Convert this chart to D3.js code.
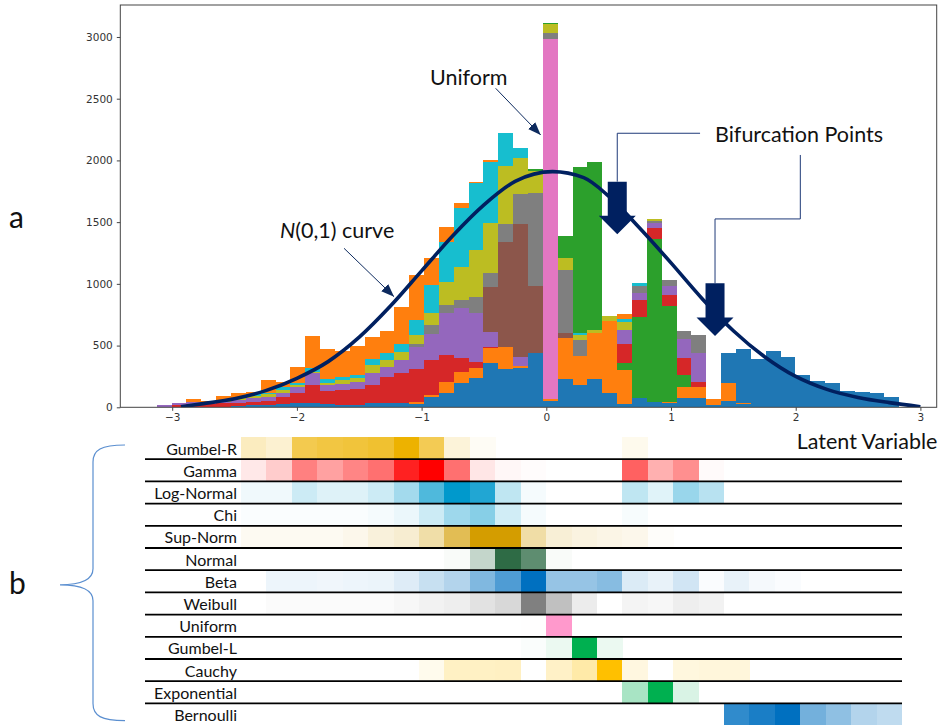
<!DOCTYPE html>
<html><head><meta charset="utf-8">
<script src="https://cdn.jsdelivr.net/npm/d3@7"></script>
<style>
body{margin:0;background:#fff}
svg{display:block}
</style>
</head><body>
<svg id="chart" width="942" height="725"></svg>
<script>
// ---- histogram of the latent variable, stacked by source distribution ----
const binCount = 50, binStart = -3.124, binWidth = 0.1191;

const histBeta      = [0,0,6,5,6,10,18,19,27,37, 32,26,22,22,38,33,37,30,84,113, 194,235,356,311,316,440,50,227,181,227, 113,30,73,45,37,73,73,15,53,25, 0,0,0,0,0,0,0,0,0,0];
const histCauchy    = [0,0,0,0,0,0,0,0,0,0, 0,0,0,0,0,0,0,10,13,94, 94,86,122,175,20,0,15,337,235,373, 586,270,0,0,8,94,94,50,146,10, 0,0,0,0,0,0,0,0,0,0];
const histExpon     = [0,0,0,0,0,0,0,0,0,0, 0,0,0,0,0,0,0,0,0,0, 0,0,0,0,0,0,0,0,0,0, 0,59,661,1315,775,95,0,0,0,0, 0,0,0,0,0,0,0,0,0,0];
const histGamma     = [0,20,22,19,27,27,27,35,54,81, 148,108,119,130,143,216,238,270,284,216, 108,49,8,0,0,0,0,0,0,0, 0,151,135,89,89,135,40,0,0,0, 0,0,0,0,0,0,0,0,0,0];
const histChi       = [19,17,13,8,10,22,27,27,38,49, 95,43,49,54,100,81,108,181,216,338, 405,392,127,0,68,0,0,0,0,0, 0,113,59,41,76,154,230,0,0,0, 0,0,0,0,0,0,0,0,0,0];
const histSupNorm   = [0,0,0,0,0,0,0,0,0,0, 0,0,0,0,0,0,0,0,0,0, 0,0,365,851,1080,540,0,35,0,0, 0,0,0,0,0,0,0,0,0,0, 0,0,0,0,0,0,0,0,0,0];
const histUniform   = [0,0,0,0,0,0,0,0,0,0, 0,0,0,0,0,0,0,0,0,0, 0,0,0,0,0,0,2917,0,0,0, 0,0,0,0,0,0,0,0,0,0, 0,0,0,0,0,0,0,0,0,0];
const histWeibull   = [0,0,0,0,0,0,0,0,0,0, 0,0,0,0,0,0,0,22,67,67, 67,135,108,149,243,756,48,513,130,0, 0,0,57,22,46,70,148,0,0,0, 0,0,0,0,0,0,0,0,0,0];
const histNormal    = [0,0,0,8,13,13,19,24,22,12, 13,22,32,32,62,54,67,75,103,189, 270,378,405,472,292,175,73,95,40,27, 40,68,0,11,0,0,0,0,0,0, 0,0,0,0,0,0,0,0,0,0];
const histLogNormal = [0,0,0,0,0,0,13,13,22,15, 27,27,22,22,46,59,60,119,227,324, 478,540,500,265,81,0,0,0,13,0, 0,27,19,0,0,0,0,0,0,0, 0,0,0,0,0,0,0,0,0,0];
const histBernoulli = [0,0,0,0,0,0,0,0,0,0, 0,0,0,0,0,0,0,0,0,0, 0,0,0,0,0,0,0,0,0,0, 0,0,0,0,0,0,0,0,243,435, 391,458,410,262,216,199,132,121,118,81];
const histGumbelR   = [0,0,24,13,32,46,22,103,40,135, 264,243,216,240,183,178,300,365,216,122, 35,13,13,0,0,0,0,0,0,0, 0,40,0,0,0,0,0,0,0,0, 0,0,0,0,0,0,0,0,0,0];
const histGumbelL   = [0,0,0,0,0,0,0,0,0,0, 0,0,0,0,0,0,0,0,0,0, 0,0,0,0,0,22,8,181,1350,1363, 0,0,0,0,0,0,0,0,0,0, 0,0,0,0,0,0,0,0,0,0];

const seriesKeys = ["Beta","Cauchy","Exponential","Gamma","Chi","Sup-Norm","Uniform","Weibull","Normal","Log-Normal","Bernoulli","Gumbel-R","Gumbel-L"];
const seriesValues = [histBeta,histCauchy,histExpon,histGamma,histChi,histSupNorm,histUniform,histWeibull,histNormal,histLogNormal,histBernoulli,histGumbelR,histGumbelL];
const seriesColors = ["#1f77b4","#ff7f0e","#2ca02c","#d62728","#9467bd","#8c564b","#e377c2","#7f7f7f","#bcbd22","#17becf","#1f77b4","#ff7f0e","#2ca02c"];

// standard normal reference curve, scaled to counts
const curveX = [-2.93,-2.75,-2.5,-2.25,-2,-1.75,-1.5,-1.25,-1,-0.75,-0.5,-0.25,0.05,0.3,0.5,0.75,1,1.25,1.5,1.75,2,2.25,2.5,2.75,3];
const curveY = [5,30,70,135,235,370,568,820,1105,1390,1640,1830,1909,1860,1710,1450,1170,880,620,410,250,145,80,38,5];

const yTicks = [0,500,1000,1500,2000,2500,3000];
const xTicks = [-3,-2,-1,0,1,2,3];

// ---- heat table: share of each distribution per latent-variable column ----
const heatNames = ["Gumbel-R","Gamma","Log-Normal","Chi","Sup-Norm","Normal","Beta","Weibull","Uniform","Gumbel-L","Cauchy","Exponential","Bernoulli"];
const heatColors = ["#EDB200","#FF0000","#0099CC","#0099CC","#D49D00","#2E6B45","#0070C0","#808080","#FF99CC","#00B050","#FFC000","#00B050","#0070C0"];
const heatGumbelR   = [0.25,0.18,0.69,0.74,0.77,0.81,1,0.67,0.15,0.04,0,0,0,0,0,0.07,0,0,0,0,0,0,0,0,0,0];
const heatGamma     = [0.09,0.2,0.5,0.37,0.48,0.56,0.87,1,0.56,0.1,0.03,0.01,0,0,0,0.62,0.31,0.44,0.02,0,0,0,0,0,0,0];
const heatLogNormal = [0.06,0.06,0.2,0.13,0.13,0.2,0.36,0.69,1,0.87,0.25,0.04,0,0,0,0.25,0.12,0.4,0.28,0,0,0,0,0,0,0];
const heatChi       = [0.02,0.02,0.02,0.02,0.02,0.04,0.08,0.2,0.38,0.47,0.18,0.04,0,0,0,0.03,0,0,0,0,0,0,0,0,0,0];
const heatSupNorm   = [0.05,0.05,0.05,0.05,0.08,0.14,0.18,0.34,0.67,1,1,0.35,0.16,0.12,0.1,0.08,0.02,0,0,0,0,0,0,0,0,0];
const heatNormal    = [0,0,0,0,0,0,0,0,0.03,0.28,1,0.77,0.03,0,0,0,0,0,0,0,0,0,0,0,0,0];
const heatBeta      = [0,0.07,0.07,0.06,0.07,0.08,0.13,0.22,0.3,0.5,0.69,1,0.41,0.41,0.47,0.14,0.09,0.18,0.02,0.09,0.04,0.02,0,0,0,0];
const heatWeibull   = [0,0.03,0.03,0.03,0.03,0.03,0.06,0.1,0.13,0.23,0.31,1,0.5,0.15,0,0.09,0.06,0.13,0.1,0,0,0,0,0,0,0];
const heatUniform   = [0,0,0,0,0,0,0,0,0,0,0,0.01,1,0,0,0,0,0,0,0,0,0,0,0,0,0];
const heatGumbelL   = [0,0,0,0,0,0,0,0,0,0,0,0.02,0.08,1,0.08,0,0,0,0,0,0,0,0,0,0,0];
const heatCauchy    = [0,0,0,0,0,0,0,0.07,0.23,0.23,0.24,0,0.22,0.34,1,0.12,0,0.13,0.14,0.14,0,0,0,0,0,0];
const heatExpon     = [0,0,0,0,0,0,0,0,0,0,0,0,0,0,0,0.34,1,0.15,0,0,0,0,0,0,0,0];
const heatBernoulli = [0,0,0,0,0,0,0,0,0,0,0,0,0,0,0,0,0,0,0,0.81,0.9,1,0.55,0.44,0.3,0.25];
const heatValues = [heatGumbelR,heatGamma,heatLogNormal,heatChi,heatSupNorm,heatNormal,heatBeta,heatWeibull,heatUniform,heatGumbelL,heatCauchy,heatExpon,heatBernoulli];

// ---------------------------------------------------------------------------
const svg = d3.select("#chart");
const FONT = "Lato, 'Open Sans', sans-serif";
const NAVY = "#002060";

const x = d3.scaleLinear().domain([-3.4163, 3.1307]).range([120.3, 936.7]);
const y = d3.scaleLinear().domain([0, 3259]).range([407.3, 5]);

const defs = svg.append("defs");
defs.append("clipPath").attr("id","plotClip").append("rect")
  .attr("x", x.range()[0]).attr("y", y.range()[1])
  .attr("width", x.range()[1]-x.range()[0]).attr("height", y.range()[0]-y.range()[1]);
defs.append("marker").attr("id","thinHead")
  .attr("viewBox","0 0 13 10").attr("refX",13).attr("refY",5)
  .attr("markerWidth",13).attr("markerHeight",10)
  .attr("markerUnits","userSpaceOnUse").attr("orient","auto")
  .append("path").attr("d","M0,0L13,5L0,10Z").attr("fill","#0d2a5e");

// stacked bars
const binRows = d3.range(binCount).map(i => {
  const o = {bin: i};
  seriesKeys.forEach((k, j) => { o[k] = seriesValues[j][i]; });
  return o;
});
const layers = d3.stack().keys(seriesKeys)(binRows);
const edge = i => x(binStart + i*binWidth);

const plot = svg.append("g").attr("clip-path","url(#plotClip)");
plot.selectAll("g.layer").data(layers).join("g")
  .attr("class","layer")
  .attr("fill", (d, j) => seriesColors[j])
  .selectAll("rect").data(d => d.filter(s => s[1] > s[0])).join("rect")
  .attr("x", d => edge(d.data.bin))
  .attr("width", d => edge(d.data.bin + 1) - edge(d.data.bin))
  .attr("y", d => y(d[1]))
  .attr("height", d => y(d[0]) - y(d[1]))
  .attr("shape-rendering","crispEdges");

// N(0,1) curve
plot.append("path")
  .datum(curveX.map((v, i) => [v, curveY[i]]))
  .attr("fill","none").attr("stroke",NAVY).attr("stroke-width",3.6)
  .attr("stroke-linejoin","round")
  .attr("d", d3.line().x(d => x(d[0])).y(d => y(d[1])).curve(d3.curveMonotoneX));

// axes frame and ticks
svg.append("rect")
  .attr("x", x.range()[0]).attr("y", y.range()[1])
  .attr("width", x.range()[1]-x.range()[0]).attr("height", y.range()[0]-y.range()[1])
  .attr("fill","none").attr("stroke","#444").attr("stroke-width",1);

const yAxis = svg.append("g").attr("transform",`translate(${x.range()[0]},0)`)
  .call(d3.axisLeft(y).tickValues(yTicks).tickFormat(d3.format("d")).tickSize(3.5).tickPadding(4));
const xAxis = svg.append("g").attr("transform",`translate(0,${y.range()[0]})`)
  .call(d3.axisBottom(x).tickValues(xTicks).tickFormat(d3.format("d")).tickSize(3.5).tickPadding(3));
[yAxis, xAxis].forEach(a => {
  a.select(".domain").remove();
  a.selectAll("line").attr("stroke","#444");
  a.selectAll("text").attr("fill","#333").style("font-family","'DejaVu Sans', sans-serif").style("font-size","10.5px");
});

// annotations
const ANN_SIZE = "21.5px";
function thinArrow(x0, y0, x1, y1) {
  svg.append("line").attr("x1",x(x0)).attr("y1",y(y0)).attr("x2",x(x1)).attr("y2",y(y1))
    .attr("stroke","#0d2a5e").attr("stroke-width",1).attr("marker-end","url(#thinHead)");
}
svg.append("text").attr("x", x(-0.933)).attr("y", y(2611))
  .text("Uniform").style("font-family",FONT).style("font-size",ANN_SIZE).attr("fill","#111");
thinArrow(-0.406, 2584, -0.045, 2206);

const nText = svg.append("text").attr("x", x(-2.136)).attr("y", y(1374))
  .style("font-family",FONT).style("font-size",ANN_SIZE).attr("fill","#111");
nText.append("tspan").attr("font-style","italic").text("N");
nText.append("tspan").text("(0,1) curve");
thinArrow(-1.622, 1288, -1.221, 896);

svg.append("text").attr("x", x(1.353)).attr("y", y(2152))
  .text("Bifurcation Points").style("font-family",FONT).style("font-size",ANN_SIZE).attr("fill","#111");

const connector = d3.line().x(d => x(d[0])).y(d => y(d[1]));
svg.append("path").attr("d", connector([[1.233,2220],[0.569,2220],[0.569,1828]]))
  .attr("fill","none").attr("stroke","#1f3a78").attr("stroke-width",1);
svg.append("path").attr("d", connector([[2.037,2044],[2.037,1526],[1.353,1526],[1.353,1005]]))
  .attr("fill","none").attr("stroke","#1f3a78").attr("stroke-width",1);

function blockArrow(xv, topCount, tipCount) {
  const tx = x(xv), ty = y(tipCount), sy = y(topCount);
  const sw = 9.5, hw = 18.5, hl = 18.5;
  const pts = [[tx-sw,sy],[tx+sw,sy],[tx+sw,ty-hl],[tx+hw,ty-hl],[tx,ty],[tx-hw,ty-hl],[tx-sw,ty-hl]];
  svg.append("polygon").attr("points", pts.map(p => p.join(",")).join(" ")).attr("fill",NAVY);
}
blockArrow(0.569, 1828, 1401);
blockArrow(1.353, 1005, 578);

// ---- heat table ----
const hx = d3.scaleBand().domain(d3.range(26)).range([241, 902]);
const hy = d3.scaleBand().domain(heatNames).range([437, 725.6]);

const heat = svg.append("g");
heatNames.forEach((name, r) => {
  const interp = d3.interpolateRgb("#ffffff", heatColors[r]);
  heat.append("g").selectAll("rect").data(heatValues[r].map((v, c) => ({v, c})).filter(d => d.v > 0)).join("rect")
    .attr("x", d => hx(d.c)).attr("width", hx.bandwidth() + 0.4)
    .attr("y", hy(name)).attr("height", hy.bandwidth())
    .attr("fill", d => interp(d.v))
    .attr("shape-rendering","crispEdges");
});
heat.append("g").selectAll("line").data(heatNames.slice(0, -1)).join("line")
  .attr("x1", 145).attr("x2", hx.range()[1])
  .attr("y1", d => hy(d) + hy.bandwidth()).attr("y2", d => hy(d) + hy.bandwidth())
  .attr("stroke","#000").attr("stroke-width",1.8);
heat.append("g").selectAll("text").data(heatNames).join("text")
  .attr("x", 237).attr("y", d => hy(d) + hy.bandwidth()/2)
  .attr("text-anchor","end").attr("dominant-baseline","central")
  .style("font-family",FONT).style("font-size","16px").attr("fill","#111")
  .text(d => d);

// axis title sits over the empty end of the first table row
svg.append("text").attr("x", x(2) + 1).attr("y", y.range()[0] + 42)
  .text("Latent Variable").style("font-family",FONT).style("font-size",ANN_SIZE).attr("fill","#111");

// panel letters and brace
svg.append("text").attr("x",9).attr("y",228).text("a")
  .style("font-family",FONT).style("font-size","30px").attr("fill","#111");
svg.append("text").attr("x",9).attr("y",594).text("b")
  .style("font-family",FONT).style("font-size","30px").attr("fill","#111");

const bTop = hy.range()[0] + 8, bBot = hy.range()[1] - 5, bMid = (bTop + bBot) / 2 + 2;
svg.append("path")
  .attr("d", `M125,${bTop} C101,${bTop} 93,${bTop+5} 93,${bTop+17} L93,${bMid-16} C93,${bMid-5} 82,${bMid} 60,${bMid}` +
             ` C82,${bMid} 93,${bMid+5} 93,${bMid+16} L93,${bBot-17} C93,${bBot-5} 101,${bBot} 125,${bBot}`)
  .attr("fill","none").attr("stroke","#5b8fd0").attr("stroke-width",1.2);
</script>
</body></html>
